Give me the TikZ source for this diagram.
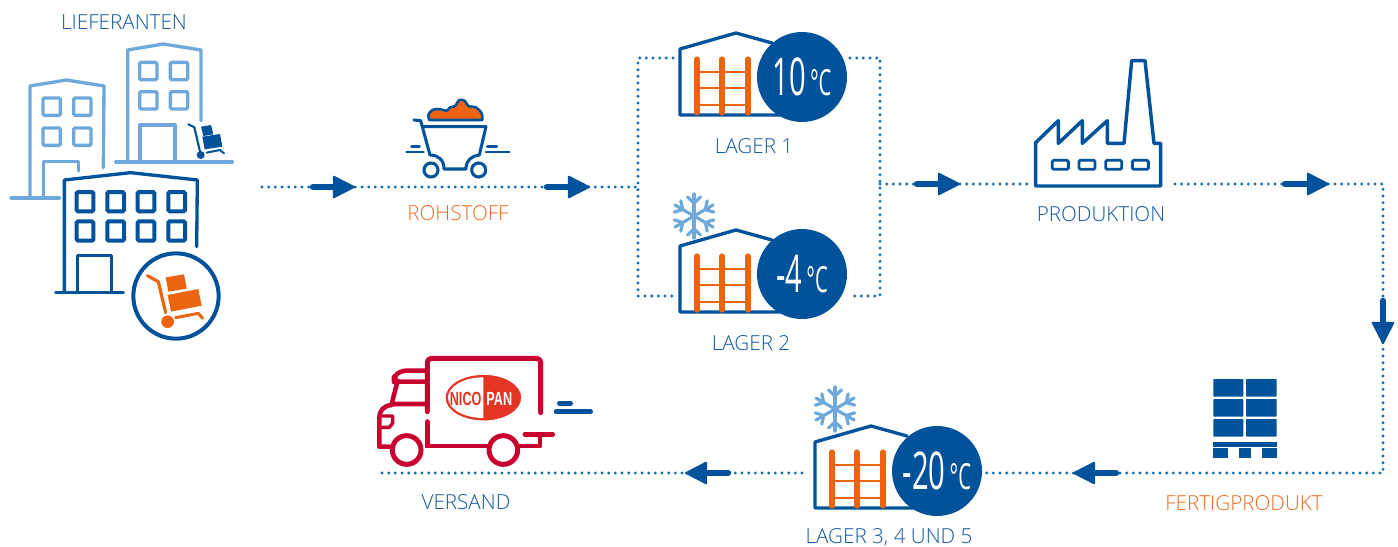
\documentclass[tikz,border=0pt]{standalone}
\usepackage{fontspec}
\setmainfont{Open Sans Light}
\newfontfamily\numfont{Open Sans}
\newfontfamily\logofont{Liberation Sans}
\usetikzlibrary{arrows.meta}
\definecolor{navy}{HTML}{00539B}
\definecolor{sky}{HTML}{6FA8DA}
\definecolor{rust}{HTML}{EC640F}
\definecolor{crim}{HTML}{C8002F}
\definecolor{dotblue}{HTML}{0A6DB5}
\definecolor{txtblue}{HTML}{0F569F}
\definecolor{txtrust}{HTML}{EB6A20}
\definecolor{logored}{HTML}{E53424}
\tikzset{
  zoomed/.style={x=.25pt,y=-.25pt},
  outline/.style={line width=2.5pt,line join=round,line cap=round},
  dotline/.style={dotblue,line width=2.4pt,line cap=round,dash pattern=on 0pt off 5pt},
  flow/.style={navy,line width=4.9pt,line cap=round,-{Triangle[length=17.5pt,width=17.5pt,line width=1.4pt,round]}},
  lbl/.style={font=\fontsize{15.5}{17}\selectfont,inner sep=0pt,text=txtblue},
  lblo/.style={lbl,text=txtrust},
  disc/.style={circle,fill=navy,minimum size=67.5pt,inner sep=0pt,text=white,font=\numfont\fontsize{39}{42}\selectfont},
  pics/store/.style={code={
    \draw[navy,outline] (100,0) -- (0,0) -- (0,-66) -- (56,-82) -- (92,-72);
    \foreach \v in {17,42,68} \draw[rust,line width=3.8pt,line cap=round] (\v,-56) -- (\v,-2);
    \foreach \v in {-43,-27,-10} \draw[rust,line width=2.2pt] (17,\v) -- (68,\v);
  }},
  pics/flake/.style={code={
    \foreach \a in {0,60,...,300} {
      \begin{scope}[rotate=\a]
        \draw[sky,line width=2.4pt,line cap=round] (0,0) -- (0,-22);
        \draw[sky,line width=2.4pt,line cap=round] (-6.5,-19) -- (0,-13) -- (6.5,-19);
      \end{scope}
    }
  }}
}
\newcommand{\tempval}[2]{\scalebox{.56}[1]{#1\hspace{.14em}{\fontsize{27}{28}\selectfont #2}}}
\begin{document}
\begin{tikzpicture}[x=.75pt,y=-.75pt]
\useasboundingbox (0,0) rectangle (1398,546);

% connectors
\coordinate (startL) at (262,187);
\coordinate (a1s) at (313,187);
\coordinate (a1e) at (355,187);
\coordinate (a2s) at (547,187);
\coordinate (a2e) at (590,187);
\coordinate (forkL) at (638,187);
\coordinate (topL) at (638,58);
\coordinate (topLe) at (673,58);
\coordinate (botL) at (638,296);
\coordinate (botLe) at (675,296);
\coordinate (topR) at (880,58);
\coordinate (topRs) at (850,58);
\coordinate (botR) at (880,296);
\coordinate (botRs) at (850,296);
\coordinate (forkR) at (880,184);
\coordinate (a3s) at (917,184);
\coordinate (a3e) at (960,184);
\coordinate (prodIn) at (1032,184);
\coordinate (prodOut) at (1175,184);
\coordinate (a4s) at (1285,184);
\coordinate (a4e) at (1329,184);
\coordinate (corner1) at (1383,184);
\coordinate (a5s) at (1383,301);
\coordinate (a5e) at (1383,344);
\coordinate (corner2) at (1383,473);
\coordinate (a6s) at (1116,473);
\coordinate (a6e) at (1073,473);
\coordinate (l3in) at (985,473);
\coordinate (l3out) at (802,473);
\coordinate (a7s) at (728,473);
\coordinate (a7e) at (685,473);
\coordinate (endL) at (381,473);

\draw[dotline] (startL) -- (forkL);
\draw[dotline] (topLe) -- (topL) -- (botL) -- (botLe);
\draw[dotline] (topRs) -- (topR) -- (botR) -- (botRs);
\draw[dotline] (forkR) -- (prodIn);
\draw[dotline] (prodOut) -- (corner1) -- (corner2) -- (l3in);
\draw[dotline] (l3out) -- (endL);
\draw[flow] (a1s) -- (a1e);
\draw[flow] (a2s) -- (a2e);
\draw[flow] (a3s) -- (a3e);
\draw[flow] (a4s) -- (a4e);
\draw[flow] (a5s) -- (a5e);
\draw[flow] (a6s) -- (a6e);
\draw[flow] (a7s) -- (a7e);

% buildings
\begin{scope}[zoomed]
  % back-left
  \draw[sky,outline] (90,590) -- (90,258) -- (200,240) -- (312,258) -- (310,503);
  \draw[sky,outline] (33,594) -- (178,594);
  \draw[sky,outline] (130,590) -- (130,485) -- (235,485) -- (235,513);
  \foreach \x/\y in {155/320,247/320,155/410,247/410}
    \draw[sky,line width=2.5pt,rounded corners=1pt] (\x-26,\y-26) rectangle (\x+26,\y+26);
  % back-right
  \draw[sky,outline] (383,480) -- (383,150) -- (490,132) -- (603,150) -- (603,362);
  \draw[sky,outline] (347,486) -- (697,486);
  \draw[sky,outline] (420,482) -- (420,375) -- (525,375) -- (525,482);
  \foreach \x/\y in {445/213,537/213,445/301,537/301}
    \draw[sky,line width=2.5pt,rounded corners=1pt] (\x-26,\y-26) rectangle (\x+26,\y+26);
  % small cart
  \draw[navy,line width=1.6pt,line cap=round,line join=round] (565,373) -- (583,382) -- (600,455);
  \fill[navy] (602,465) circle (12);
  \draw[navy,line width=1.5pt,line cap=round,line join=round] (620,458) -- (660,450) -- (672,460);
  \fill[navy] (603,380) -- (633,375) -- (640,403) -- (610,408) -- cycle;
  \fill[navy] (607,410) -- (660,402) -- (667,440) -- (614,448) -- cycle;
  % front building
  \fill[white] (193,875) -- (193,540) -- (392,518) -- (592,540) -- (592,760) -- (400,880) -- cycle;
  \draw[navy,outline] (193,875) -- (193,540) -- (392,518) -- (592,540) -- (590,740);
  \draw[navy,outline] (167,878) -- (370,878);
  \draw[navy,outline] (232,875) -- (232,767) -- (334,767) -- (334,875);
  \foreach \x in {255,347,438,530} \foreach \y in {605,693}
    \draw[navy,line width=3pt,rounded corners=1pt] (\x-25,\y-29) rectangle (\x+25,\y+29);
  % circle with cart
  \draw[navy,line width=3pt,fill=white] (528,888) circle (128);
  \draw[rust,line width=2.4pt,line cap=round,line join=round] (442,827) -- (475,845) -- (497,938);
  \fill[rust] (503,965) circle (19);
  \draw[rust,line width=2.2pt,line cap=round,line join=round] (527,953) -- (595,940) -- (608,955);
  \fill[rust] (497,832) -- (552,823) -- (560,866) -- (505,875) -- cycle;
  \fill[rust] (503,885) -- (595,867) -- (605,917) -- (513,935) -- cycle;
\end{scope}

% raw-material cart
\begin{scope}[shift={(400,20)},zoomed]
  \draw[navy,line width=2.3pt,line cap=round,line join=round]
    (42,300) -- (62,302) -- (90,405) .. controls (115,405) and (132,420) .. (132,447) -- (198,447)
    .. controls (198,420) and (215,408) .. (238,405) -- (258,320) -- (70,320);
  \draw[navy,line width=2.3pt,fill=white] (93,450) circle (21);
  \draw[navy,line width=2.3pt,fill=white] (236,450) circle (21);
  \draw[navy,line width=2.2pt,line cap=round] (35,380) -- (58,380) (20,396) -- (70,396) (262,380) -- (290,380) (258,396) -- (328,396);
  \draw[navy,fill=rust,line width=1.9pt,line join=round]
    plot[smooth,tension=.55] coordinates {(88,300) (85,285) (97,270) (118,267) (140,272) (150,262) (165,258) (178,240) (195,243) (205,258) (228,262) (245,280) (247,300)} -- cycle;
\end{scope}

% stores
\pic at (680,115) {store};
\pic at (680,312) {store};
\pic at (815,508) {store};
\pic at (694,216) {flake};
\pic at (835,409) {flake};
\node[disc] (lager1) at (802,77) {\tempval{10}{°C}};
\node[disc] (lager2) at (802,274) {\tempval{-4}{°C}};
\node[disc] (lager3) at (937,471) {\tempval{-20}{°C}};

% factory
\begin{scope}[shift={(1020,50)},zoomed]
  \draw[navy,line width=2.6pt,line join=round]
    (47,408) -- (47,278) -- (115,212) -- (115,280) -- (187,212) -- (187,280) -- (262,212) -- (262,280)
    -- (312,280) -- (335,32) -- (375,32) -- (402,280) -- (422,280) -- (422,408) -- cycle;
  \foreach \x in {97,177,257,337}
    \draw[navy,line width=2.1pt,rounded corners=1pt] (\x,331) rectangle (\x+48,358);
\end{scope}

% pallet
\begin{scope}[shift={(1060,290)},zoomed]
  \foreach \y in {267,327,387} {
    \fill[navy,rounded corners=.5pt] (460,\y) rectangle (550,\y+53);
    \fill[navy,rounded corners=.5pt] (558,\y) rectangle (650,\y+53);
  }
  \fill[navy] (460,455) rectangle (651,470);
  \fill[navy] (460,474) rectangle (505,505);
  \fill[navy] (536,474) rectangle (574,505);
  \fill[navy] (606,474) rectangle (651,505);
\end{scope}

% truck
\begin{scope}[shift={(370,340)},zoomed]
  \draw[crim,line width=3.7pt,line cap=round,line join=round,rounded corners=3pt]
    (172,215) -- (172,55) -- (512,55) -- (512,218);
  \draw[crim,line width=3.4pt,line cap=round,line join=round,rounded corners=4pt]
    (172,92) -- (92,92) -- (72,110) -- (72,125) -- (172,125);
  \draw[crim,line width=3.4pt,line cap=round,line join=round]
    (82,125) -- (65,192) -- (172,192);
  \draw[crim,line width=3.4pt,line cap=round,line join=round]
    (65,195) .. controls (42,197) and (28,210) .. (28,235) -- (28,320) -- (60,320);
  \draw[crim,line width=2.6pt,line join=round]
    (30,228) -- (68,228) -- (68,250) -- (58,262) -- (30,262);
  \draw[crim,line width=3.7pt,line cap=round] (172,245) -- (172,318) -- (355,318);
  \draw[crim,line width=3.7pt,line cap=round,line join=round] (448,318) -- (510,318) -- (510,283);
  \draw[crim,line width=3.7pt,line cap=round] (465,283) -- (548,283);
  \draw[crim,line width=3.7pt,fill=white] (110,330) circle (43);
  \draw[crim,line width=3.7pt,fill=white] (400,330) circle (43);
  \draw[navy,line width=3.4pt,line cap=round] (568,190) -- (602,190) (558,215) -- (662,215);
  % logo
  \fill[logored] (340,173) ellipse (113 and 68);
  \fill[white] (340,173) ellipse (106 and 61);
  \begin{scope}
    \clip (340,100) rectangle (460,250);
    \fill[logored] (340,173) ellipse (113 and 68);
  \end{scope}
  \node[font=\logofont\bfseries\fontsize{9.5}{10}\selectfont,text=logored,inner sep=0pt] (nico) at (287,178) {\scalebox{1}[1.5]{NICO}};
  \node[font=\logofont\bfseries\fontsize{9.5}{10}\selectfont,text=white,inner sep=0pt] (pan) at (388,178) {\scalebox{1}[1.5]{PAN}};
\end{scope}

% labels
\node[lbl]  (lief) at (124,22)  {LIEFERANTEN};
\node[lblo] (roh)  at (458,213) {ROHSTOFF};
\node[lbl]  (l1)   at (754,146) {LAGER 1};
\node[lbl]  (l2)   at (751,343) {LAGER 2};
\node[lbl]  (prod) at (1101,214) {PRODUKTION};
\node[lblo] (fert) at (1244,503) {FERTIGPRODUKT};
\node[lbl]  (l3)   at (889,537) {LAGER 3, 4 UND 5};
\node[lbl]  (vers) at (466,502) {VERSAND};
\end{tikzpicture}
\end{document}
